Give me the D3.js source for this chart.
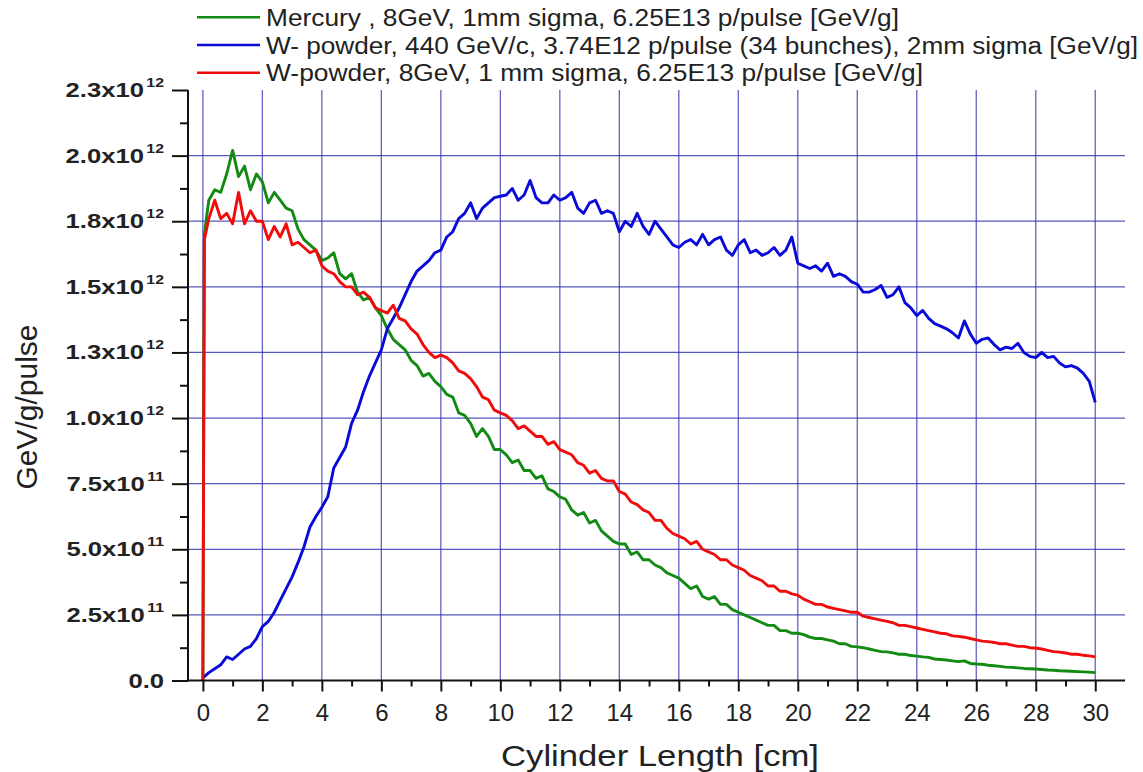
<!DOCTYPE html>
<html><head><meta charset="utf-8">
<script src="https://cdn.jsdelivr.net/npm/d3@7"></script>
<style>
html,body{margin:0;padding:0;background:#fff;}
svg{display:block;font-family:"Liberation Sans",Arial,sans-serif;}
</style></head>
<body>
<svg id="chart" width="1143" height="772"></svg>
<script>
// ---------- DATA (values in units of 1e11 GeV/g/pulse) ----------
const xCm = [0,0.05,0.2,0.4,0.6,0.8,1.0,1.2,1.4,1.6,1.8,2.0,2.2,2.4,2.6,2.8,3.0,3.2,3.4,3.6,3.8,4.0,4.2,4.4,4.6,4.8,5.0,5.2,5.4,5.6,5.8,6.0,6.2,6.4,6.6,6.8,7.0,7.2,7.4,7.6,7.8,8.0,8.2,8.4,8.6,8.8,9.0,9.2,9.4,9.6,9.8,10.0,10.2,10.4,10.6,10.8,11.0,11.2,11.4,11.6,11.8,12.0,12.2,12.4,12.6,12.8,13.0,13.2,13.4,13.6,13.8,14.0,14.2,14.4,14.6,14.8,15.0,15.2,15.4,15.6,15.8,16.0,16.2,16.4,16.6,16.8,17.0,17.2,17.4,17.6,17.8,18.0,18.2,18.4,18.6,18.8,19.0,19.2,19.4,19.6,19.8,20.0,20.2,20.4,20.6,20.8,21.0,21.2,21.4,21.6,21.8,22.0,22.2,22.4,22.6,22.8,23.0,23.2,23.4,23.6,23.8,24.0,24.2,24.4,24.6,24.8,25.0,25.2,25.4,25.6,25.8,26.0,26.2,26.4,26.6,26.8,27.0,27.2,27.4,27.6,27.8,28.0,28.2,28.4,28.6,28.8,29.0,29.2,29.4,29.6,29.8,30.0];

const mercury = [0,17.0,18.3,18.7,18.6,19.3,20.2,19.2,19.6,18.7,19.3,19.0,18.2,18.6,18.3,18.0,17.9,17.2,16.8,16.6,16.4,16.0,16.1,16.3,15.5,15.3,15.5,14.8,14.5,14.6,14.2,13.9,13.4,13.0,12.8,12.6,12.2,12.0,11.6,11.7,11.4,11.2,10.9,10.8,10.2,10.1,9.8,9.3,9.6,9.3,8.8,8.8,8.6,8.3,8.4,8.0,8.0,7.7,7.8,7.3,7.2,7.0,6.9,6.5,6.3,6.4,6.0,6.1,5.7,5.5,5.3,5.2,5.2,4.8,4.9,4.6,4.6,4.4,4.3,4.1,4.0,3.9,3.7,3.5,3.6,3.2,3.1,3.2,2.9,2.9,2.7,2.6,2.5,2.4,2.3,2.2,2.1,2.1,1.9,1.9,1.8,1.8,1.75,1.65,1.6,1.6,1.55,1.5,1.4,1.4,1.3,1.28,1.25,1.2,1.15,1.1,1.09,1.05,1.0,1.0,0.95,0.93,0.9,0.88,0.82,0.8,0.78,0.75,0.72,0.75,0.65,0.63,0.62,0.58,0.56,0.54,0.51,0.5,0.48,0.46,0.45,0.44,0.42,0.4,0.39,0.37,0.36,0.35,0.34,0.33,0.32,0.3];

const wPowder440 = [0.1,0.15,0.3,0.45,0.6,0.9,0.8,1.0,1.2,1.3,1.6,2.05,2.25,2.6,3.05,3.5,3.95,4.5,5.1,5.85,6.25,6.6,7.0,8.1,8.5,8.9,9.8,10.3,11.0,11.6,12.1,12.6,13.4,13.8,14.2,14.7,15.2,15.6,15.8,16.0,16.3,16.4,16.9,17.1,17.6,17.8,18.2,17.6,18.0,18.2,18.4,18.45,18.5,18.75,18.3,18.5,19.05,18.4,18.2,18.2,18.5,18.3,18.4,18.6,18.0,17.8,18.2,18.3,17.8,17.9,17.8,17.1,17.5,17.3,17.8,17.3,17.0,17.5,17.2,16.9,16.6,16.5,16.7,16.8,16.6,17.0,16.6,16.8,16.9,16.4,16.2,16.6,16.8,16.3,16.4,16.2,16.3,16.5,16.2,16.4,16.9,15.9,15.8,15.7,15.8,15.6,15.9,15.4,15.5,15.4,15.2,15.1,14.8,14.8,14.9,15.05,14.6,14.7,15.0,14.4,14.2,13.9,14.1,13.8,13.6,13.5,13.4,13.25,13.05,13.7,13.2,12.85,13.0,13.05,12.8,12.6,12.7,12.65,12.85,12.5,12.35,12.3,12.5,12.3,12.35,12.1,11.95,12.0,11.9,11.7,11.4,10.6];

const wPowder8 = [0,16.8,17.6,18.3,17.6,17.8,17.4,18.6,17.4,17.9,17.5,17.5,16.8,17.3,16.9,17.4,16.6,16.7,16.5,16.3,16.4,15.8,15.6,15.5,15.2,15.0,15.0,14.7,14.8,14.6,14.2,14.1,14.0,14.3,13.8,13.7,13.4,13.2,12.8,12.5,12.3,12.4,12.3,12.1,11.8,11.7,11.5,11.2,10.8,10.7,10.3,10.2,10.1,9.9,9.6,9.7,9.5,9.3,9.3,9.0,9.1,8.8,8.7,8.6,8.3,8.2,7.9,8.0,7.7,7.6,7.6,7.2,7.1,6.8,6.7,6.5,6.4,6.1,6.1,5.8,5.6,5.5,5.4,5.2,5.3,5.0,4.9,4.8,4.6,4.6,4.4,4.3,4.2,4.0,3.9,3.8,3.6,3.6,3.4,3.4,3.3,3.25,3.1,3.0,2.9,2.9,2.8,2.75,2.7,2.65,2.6,2.6,2.45,2.4,2.35,2.3,2.25,2.2,2.1,2.1,2.05,2.0,1.95,1.9,1.85,1.8,1.78,1.7,1.68,1.65,1.6,1.55,1.5,1.48,1.45,1.4,1.4,1.35,1.3,1.3,1.25,1.24,1.2,1.15,1.1,1.08,1.05,1.0,1.0,0.96,0.94,0.9];

const seriesNames = [
  "Mercury , 8GeV, 1mm sigma, 6.25E13 p/pulse [GeV/g]",
  "W- powder, 440 GeV/c, 3.74E12 p/pulse (34 bunches), 2mm sigma [GeV/g]",
  "W-powder, 8GeV, 1 mm sigma, 6.25E13 p/pulse [GeV/g]"
];
const seriesColors = ["#138a13", "#0a0ad8", "#f00c0c"];
const seriesData = [mercury, wPowder440, wPowder8];

const xTicks = [0,2,4,6,8,10,12,14,16,18,20,22,24,26,28,30];
const xMinorTicks = [1,3,5,7,9,11,13,15,17,19,21,23,25,27,29];
const yTicks = [0,2.5,5,7.5,10,12.5,15,17.5,20,22.5];
const yMinorTicks = [1.25,3.75,6.25,8.75,11.25,13.75,16.25,18.75,21.25];
const yTickMantissa = ["0.0","2.5x10","5.0x10","7.5x10","1.0x10","1.3x10","1.5x10","1.8x10","2.0x10","2.3x10"];
const yTickExponent = ["","11","11","11","12","12","12","12","12","12"];
const yGridTicks = [2.5,5,7.5,10,12.5,15,17.5,20];

const xTitle = "Cylinder Length [cm]";
const yTitle = "GeV/g/pulse";

// ---------- LAYOUT ----------
const svg = d3.select("#chart");
const plotL = 188, plotR = 1125, plotT = 90, plotB = 680.5;
const x = d3.scaleLinear().domain([-0.5, 31]).range([plotL, plotR]);
const y = d3.scaleLinear().domain([0, 22.5]).range([plotB, plotT]);

// grid
const grid = svg.append("g");
grid.selectAll("line.v").data(xTicks).join("line")
  .attr("x1", d => x(d)).attr("x2", d => x(d))
  .attr("y1", plotT).attr("y2", plotB)
  .attr("stroke", "#4646b8").attr("stroke-width", 1.3).attr("stroke-opacity", 0.85);
grid.selectAll("line.h").data(yGridTicks).join("line")
  .attr("x1", plotL).attr("x2", plotR)
  .attr("y1", d => y(d)).attr("y2", d => y(d))
  .attr("stroke", "#3838b4").attr("stroke-width", 1.2).attr("stroke-opacity", 0.85);

// series lines
const line = d3.line().x((d, i) => x(xCm[i])).y(d => y(d));
seriesData.forEach((s, k) => {
  svg.append("path").datum(s)
    .attr("d", line)
    .attr("fill", "none")
    .attr("stroke", seriesColors[k])
    .attr("stroke-width", 2.9)
    .attr("stroke-linejoin", "round");
});

// axes
const xAxis = d3.axisBottom(x).tickValues(xTicks).tickSize(11).tickFormat(d3.format("d"));
const gx = svg.append("g").attr("transform", `translate(0,${plotB})`).call(xAxis);
gx.select(".domain").attr("d", `M${plotL},0H${plotR}`).attr("stroke", "#111").attr("stroke-width", 2);
gx.selectAll(".tick line").attr("stroke", "#111").attr("stroke-width", 2);
gx.selectAll(".tick text").attr("font-size", 24).attr("fill", "#222").attr("y", 23)
  .attr("font-family", "'Liberation Sans',Arial,sans-serif");
const gxm = svg.append("g").attr("transform", `translate(0,${plotB})`)
  .call(d3.axisBottom(x).tickValues(xMinorTicks).tickSize(6).tickFormat(""));
gxm.select(".domain").remove();
gxm.selectAll(".tick line").attr("stroke", "#111").attr("stroke-width", 2);

const yAxis = d3.axisLeft(y).tickValues(yTicks).tickSize(16).tickFormat("");
const gy = svg.append("g").attr("transform", `translate(${plotL},0)`).call(yAxis);
gy.select(".domain").attr("d", `M0,${plotT}V${plotB + 1}`).attr("stroke", "#111").attr("stroke-width", 2);
gy.selectAll(".tick line").attr("stroke", "#111").attr("stroke-width", 2);
const gym = svg.append("g").attr("transform", `translate(${plotL},0)`)
  .call(d3.axisLeft(y).tickValues(yMinorTicks).tickSize(8).tickFormat(""));
gym.select(".domain").remove();
gym.selectAll(".tick line").attr("stroke", "#111").attr("stroke-width", 2);

// y tick labels with superscript exponents
const ylab = svg.append("g");
yTicks.forEach((v, i) => {
  const g = ylab.append("g").attr("transform", `translate(164,${y(v) + 7}) scale(1.22,1)`);
  const t = g.append("text").attr("text-anchor", "end")
    .attr("font-weight", "bold").attr("font-size", 21).attr("fill", "#222");
  t.append("tspan").text(yTickMantissa[i]);
  if (yTickExponent[i]) {
    t.append("tspan").attr("dx", 2).attr("dy", -10).attr("font-size", 13).text(yTickExponent[i]);
  }
});

// axis titles
svg.append("text").attr("x", 660).attr("y", 766).attr("text-anchor", "middle")
  .attr("font-size", 30).attr("fill", "#222").attr("textLength", 318).attr("lengthAdjust", "spacingAndGlyphs")
  .text(xTitle);
svg.append("text").attr("transform", "translate(37,407) rotate(-90)").attr("text-anchor", "middle")
  .attr("font-size", 30).attr("fill", "#222").attr("textLength", 165).attr("lengthAdjust", "spacingAndGlyphs")
  .text(yTitle);

// legend
const legY = [17.3, 45, 72.7];
const legLen = [633, 872, 657];
seriesNames.forEach((name, k) => {
  svg.append("line").attr("x1", 197).attr("x2", 260).attr("y1", legY[k]).attr("y2", legY[k])
    .attr("stroke", seriesColors[k]).attr("stroke-width", 2.6);
  svg.append("text").attr("x", 266).attr("y", legY[k] + 8.6)
    .attr("font-size", 23).attr("fill", "#222")
    .attr("textLength", legLen[k]).attr("lengthAdjust", "spacingAndGlyphs")
    .text(name);
});
</script>
</body></html>
